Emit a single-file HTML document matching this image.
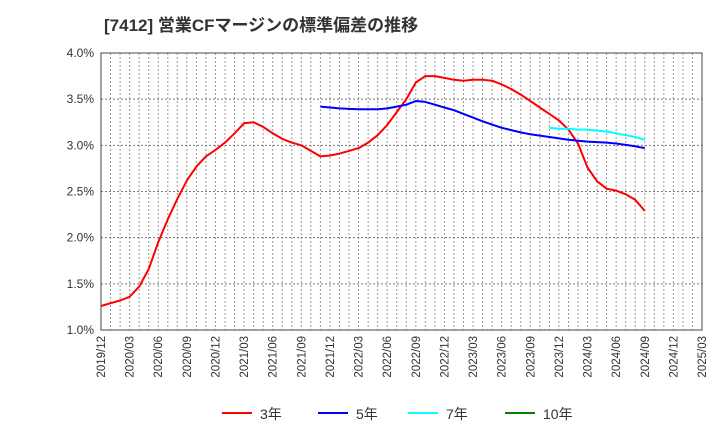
<!DOCTYPE html>
<html><head><meta charset="utf-8"><style>
body{margin:0;background:#fff;font-family:"Liberation Sans","Noto Sans CJK JP",sans-serif}
</style></head><body>
<svg id="c" width="720" height="440" xmlns="http://www.w3.org/2000/svg">
<text x="104" y="31" font-size="17" font-weight="bold" fill="#333" font-family="Liberation Sans,Noto Sans CJK JP,sans-serif">[7412]  営業CFマージンの標準偏差の推移</text>
<g id="grid"></g><g id="series"></g><g id="axes"></g><g id="legend"></g>
</svg>
<script>
const yTicks=[1.0,1.5,2.0,2.5,3.0,3.5,4.0];
const xLabels=["2019/12","2020/03","2020/06","2020/09","2020/12","2021/03","2021/06","2021/09","2021/12","2022/03","2022/06","2022/09","2022/12","2023/03","2023/06","2023/09","2023/12","2024/03","2024/06","2024/09","2024/12","2025/03"];
const s3=[1.26,1.29,1.32,1.36,1.47,1.66,1.95,2.2,2.42,2.62,2.77,2.88,2.95,3.03,3.13,3.24,3.25,3.2,3.13,3.07,3.03,3.0,2.94,2.88,2.89,2.91,2.94,2.97,3.03,3.11,3.22,3.36,3.5,3.68,3.75,3.75,3.73,3.71,3.7,3.71,3.71,3.7,3.66,3.61,3.55,3.48,3.41,3.34,3.27,3.17,3.02,2.76,2.61,2.53,2.51,2.47,2.41,2.29];
const s5start=23;
const s5=[3.42,3.41,3.40,3.395,3.39,3.39,3.39,3.40,3.42,3.44,3.48,3.47,3.44,3.41,3.38,3.34,3.30,3.26,3.225,3.19,3.165,3.14,3.12,3.105,3.09,3.075,3.06,3.05,3.04,3.035,3.03,3.02,3.005,2.99,2.97];
const s7start=47;
const s7=[3.19,3.18,3.18,3.17,3.17,3.16,3.15,3.13,3.11,3.09,3.06];
const legendLabels=["3年","5年","7年","10年"];
const legendColors=["#ff0000","#0000ff","#00ffff","#008000"];
const X0=101,X1=702,Y0=330,Y1=53,MONTHS=63;
const xs=i=>X0+(X1-X0)*i/MONTHS;
const ys=v=>Y0-(v-1)/(4-1)*(Y0-Y1);
const NS="http://www.w3.org/2000/svg";
function mk(t,a,p){const e=document.createElementNS(NS,t);for(const k in a)e.setAttribute(k,a[k]);p.appendChild(e);return e;}
const grid=document.getElementById('grid'),axes=document.getElementById('axes'),ser=document.getElementById('series'),leg=document.getElementById('legend');
for(let i=1;i<MONTHS;i++){const l=mk('line',{x1:xs(i),x2:xs(i),y1:Y1,y2:Y0,stroke:'#999','stroke-dasharray':'2,2','stroke-width':1},grid);

}
yTicks.forEach(v=>{const l=mk('line',{x1:X0,x2:X1,y1:ys(v),y2:ys(v),stroke:'#777','stroke-dasharray':'2,2','stroke-width':1},grid);


const t=mk('text',{x:X0-7,y:ys(v)+4,'text-anchor':'end','font-size':12,fill:'#333'},axes);t.textContent=v.toFixed(1)+'%';

});
const fr=mk('rect',{x:X0,y:Y1,width:X1-X0,height:Y0-Y1,fill:'none',stroke:'#444','stroke-width':1},axes);


xLabels.forEach((s,k)=>{const x=xs(k*3)+4;const t=mk('text',{x:x,y:Y0+6,'text-anchor':'end','font-size':11.5,fill:'#333',transform:`rotate(-90 ${x} ${Y0+6})`},axes);t.textContent=s;

});
function line(arr,start,col,name){const pts=arr.map((v,i)=>xs(start+i).toFixed(1)+','+ys(v).toFixed(1)).join(' ');
const p=mk('polyline',{points:pts,fill:'none',stroke:col,'stroke-width':2,'stroke-linejoin':'round'},ser);

}
line(s3,0,legendColors[0],'series-3y');
line(s5,s5start,legendColors[1],'series-5y');
line(s7,s7start,legendColors[2],'series-7y');
const lx=[222,318,408,505];
legendLabels.forEach((s,i)=>{const g=mk('g',{},leg);


mk('line',{x1:lx[i],x2:lx[i]+30,y1:413,y2:413,stroke:legendColors[i],'stroke-width':2},g);
const t=mk('text',{x:lx[i]+38,y:419,'font-size':14,fill:'#333'},g);t.textContent=s;});
</script>
</body></html>
